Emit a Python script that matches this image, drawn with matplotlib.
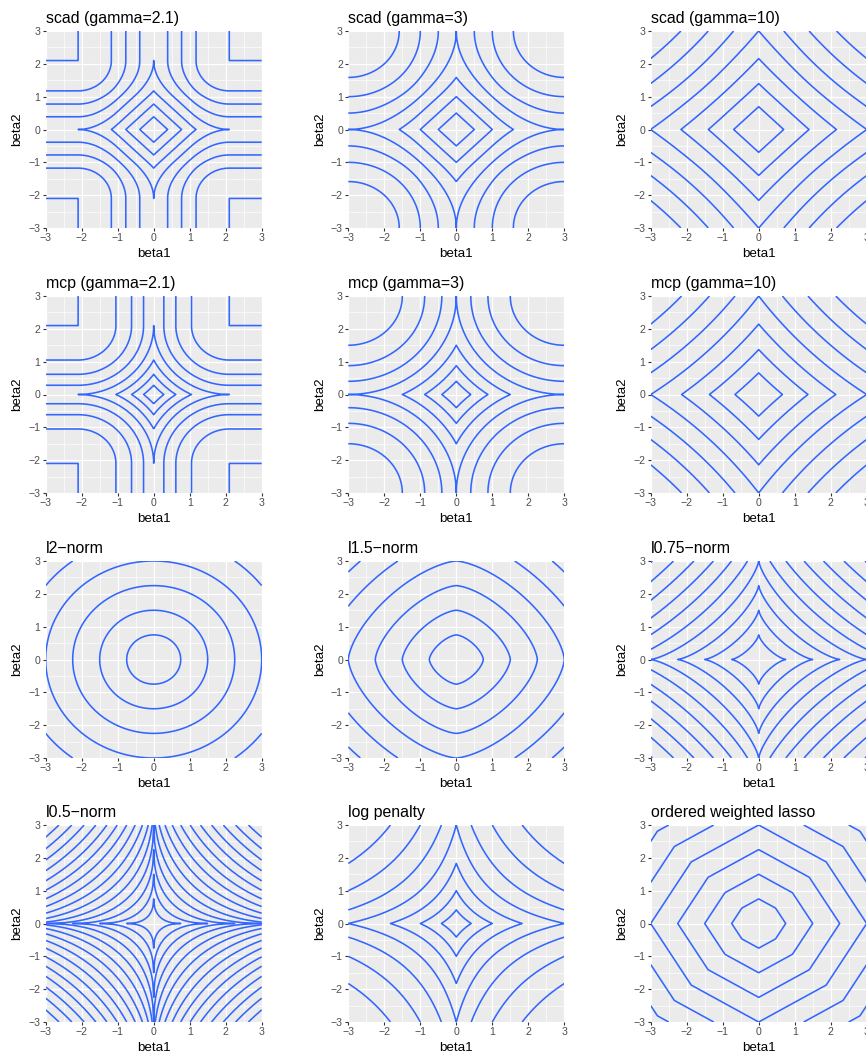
import matplotlib.pyplot as plt
import numpy as np

plt.rcParams['font.family'] = ['Liberation Sans', 'DejaVu Sans']

# panel titles, row by row
titles = ["scad (gamma=2.1)", "scad (gamma=3)", "scad (gamma=10)",
          "mcp (gamma=2.1)", "mcp (gamma=3)", "mcp (gamma=10)",
          "l2\u2212norm", "l1.5\u2212norm", "l0.75\u2212norm",
          "l0.5\u2212norm", "log penalty", "ordered weighted lasso"]
kinds = ["scad", "scad", "scad", "mcp", "mcp", "mcp",
         "lp", "lp", "lp", "lp", "log", "owl"]
params = [2.1, 3, 10, 2.1, 3, 10, 2, 1.5, 0.75, 0.5, None, None]
level_steps = [0.3875, 0.5, 0.695, 0.2625, 0.375, 0.6375,
               0.75, 0.75, 0.75, 0.75, 0.3466, 0.75]
owl_weights = [1.0, 0.6]
lam = 1.0

ticks = [-3, -2, -1, 0, 1, 2, 3]
minor_ticks = [-2.5, -1.5, -0.5, 0.5, 1.5, 2.5]


def scad(b, g):
    b = np.abs(b)
    mid = (2 * g * lam * b - b ** 2 - lam ** 2) / (2 * (g - 1))
    return np.where(b <= lam, lam * b, np.where(b <= g * lam, mid, (g + 1) * lam ** 2 / 2))


def mcp(b, g):
    b = np.abs(b)
    return np.where(b <= g * lam, lam * b - b ** 2 / (2 * g), g * lam ** 2 / 2)


def penalty(kind, p, b1, b2):
    if kind == "scad":
        return scad(b1, p) + scad(b2, p)
    if kind == "mcp":
        return mcp(b1, p) + mcp(b2, p)
    if kind == "lp":
        return (np.abs(b1) ** p + np.abs(b2) ** p) ** (1 / p)
    if kind == "log":
        return np.log(1 + np.abs(b1)) + np.log(1 + np.abs(b2))
    a1, a2 = np.abs(b1), np.abs(b2)
    return owl_weights[0] * np.maximum(a1, a2) + owl_weights[1] * np.minimum(a1, a2)


g = np.linspace(-3, 3, 241)
B1, B2 = np.meshgrid(g, g)

W, H = 866, 1055
fig = plt.figure(figsize=(W / 100, H / 100), dpi=100)
fig.patch.set_facecolor("white")

col_left = [45.7, 348.3, 650.7]
row_top = [31, 296, 561, 825]
pw, ph = 216, 197

for i, title in enumerate(titles):
    r, c = divmod(i, 3)
    ax = fig.add_axes([col_left[c] / W, 1 - (row_top[r] + ph) / H, pw / W, ph / H])
    ax.set_facecolor("#EBEBEB")
    Z = penalty(kinds[i], params[i], B1, B2)
    step = level_steps[i]
    levels = np.arange(step, Z.max() + 1e-6, step) - 1e-6
    ax.contour(B1, B2, Z, levels=levels, colors="#3366FF", linewidths=1.15)

    ax.set_xlim(-3, 3)
    ax.set_ylim(-3, 3)
    ax.set_xticks(ticks)
    ax.set_yticks(ticks)
    ax.set_xticks(minor_ticks, minor=True)
    ax.set_yticks(minor_ticks, minor=True)
    ax.set_xticklabels([str(t).replace("-", "\u2212") for t in ticks])
    ax.set_yticklabels([str(t).replace("-", "\u2212") for t in ticks])
    ax.grid(True, which="major", color="white", linewidth=0.9)
    ax.grid(True, which="minor", color="white", linewidth=0.45)
    ax.set_axisbelow(True)
    for s in ax.spines.values():
        s.set_visible(False)
    ax.tick_params(which="major", length=2.3, width=0.8, color="#333333",
                   labelsize=7.6, labelcolor="#4D4D4D", pad=1.6)
    ax.tick_params(which="minor", length=0)
    ax.set_xlabel("beta1", fontsize=9.6, labelpad=3)
    ax.set_ylabel("beta2", fontsize=9.6, labelpad=3.5)
    ax.set_title(title, loc="left", fontsize=11.4, pad=5.5)

fig.savefig("out.png", dpi=100)
